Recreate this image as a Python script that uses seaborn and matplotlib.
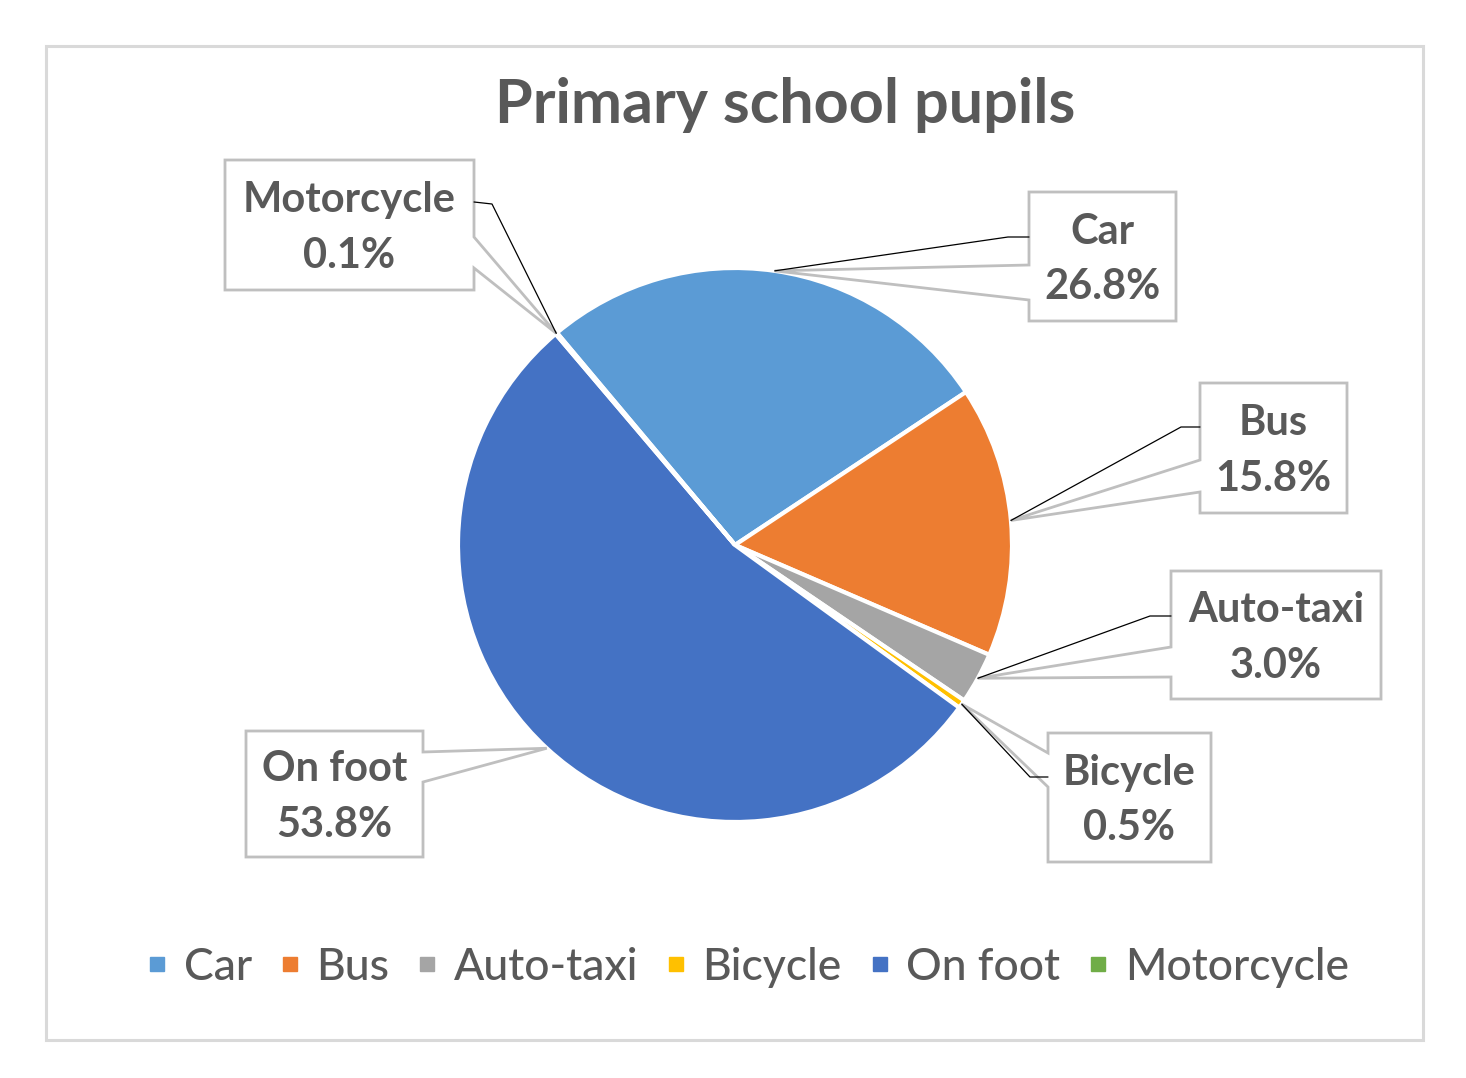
import numpy as np
import seaborn as sns
import matplotlib.pyplot as plt
from matplotlib.patches import Polygon, Rectangle
from matplotlib.lines import Line2D

sns.set_theme(style='white')
plt.rcParams['font.family'] = ['Lato', 'DejaVu Sans']

# Data
modes = ['Car', 'Bus', 'Auto-taxi', 'Bicycle', 'On foot', 'Motorcycle']
shares = [26.8, 15.8, 3.0, 0.5, 53.8, 0.1]
colors = ['#5B9BD5', '#ED7D31', '#A5A5A5', '#FFC000', '#4472C4', '#70AD47']
title = 'Primary school pupils'

W, H = 1466, 1078
TXT = '#595959'
GRID = '#BFBFBF'


def px(x, y):
    # pixel position (y down) -> data coords (y up)
    return x, H - y


fig = plt.figure(figsize=(W / 100, H / 100), dpi=100)
ax = fig.add_axes([0, 0, 1, 1])
ax.set_xlim(0, W)
ax.set_ylim(0, H)
ax.set_aspect('equal')
ax.axis('off')

# outer chart border
ax.add_patch(Rectangle(px(46, 1040), 1377, 994, fill=False, ec='#D9D9D9', lw=2.2, zorder=0))

cx, cy = px(735, 545)
R = 277
wedges, _ = ax.pie(shares, colors=sns.color_palette(colors), startangle=130, counterclock=False,
                   center=(cx, cy), radius=R, frame=True,
                   wedgeprops=dict(edgecolor='white', linewidth=3))
ax.set_xlim(0, W)
ax.set_ylim(0, H)
ax.axis('off')

ax.text(*px(785, 105), title, ha='center', va='center', fontsize=44, fontweight='bold', color=TXT)

# callout boxes: (left, top, right, bottom), side of pointer, wedge base (y1, y2), black leader (start, elbow)
callouts = {
    'Car': ((1029, 192, 1176, 321), 'left', (265, 300), ((1029, 237), (1008, 237))),
    'Bus': ((1200, 383, 1347, 513), 'left', (460, 492), ((1200, 427), (1181, 427))),
    'Auto-taxi': ((1171, 571, 1381, 699), 'left', (647, 677), ((1171, 616), (1150, 616))),
    'Bicycle': ((1048, 733, 1211, 862), 'left', (753, 787), ((1048, 777), (1030, 777))),
    'On foot': ((246, 731, 423, 857), 'right', (752, 782), None),
    'Motorcycle': ((225, 160, 474, 290), 'right', (237, 268), ((474, 202), (492, 204))),
}

for w, name, val in zip(wedges, modes, shares):
    mid = np.deg2rad((w.theta1 + w.theta2) / 2)
    tip = (cx + R * np.cos(mid), cy + R * np.sin(mid))
    (l, t, r, b), side, (y1, y2), leader = callouts[name]
    if side == 'left':
        pts = [px(l, t), px(r, t), px(r, b), px(l, b), px(l, y2), tip, px(l, y1)]
    else:
        pts = [px(l, t), px(r, t), px(r, y1), tip, px(r, y2), px(r, b), px(l, b)]
    ax.add_patch(Polygon(pts, closed=True, fc='white', ec=GRID, lw=2, zorder=3, joinstyle='miter'))
    if leader is not None:
        s, e = leader
        xs = [px(*s)[0], px(*e)[0], tip[0]]
        ys = [px(*s)[1], px(*e)[1], tip[1]]
        ax.plot(xs, ys, color='black', lw=0.9, zorder=4)
    tx, ty = px((l + r) / 2, (t + b) / 2 + 3)
    ax.text(tx, ty, f'{name}\n{val:.1f}%', ha='center', va='center', fontsize=30,
            fontweight='bold', color=TXT, linespacing=1.55, zorder=5)

handles = [Line2D([], [], marker='s', ls='none', markersize=10, color=c) for c in colors]
fig.legend(handles, modes, loc='center', bbox_to_anchor=(0.509, 1 - 967 / H), ncol=6,
           frameon=False, fontsize=32, labelcolor=TXT, handletextpad=0.3,
           columnspacing=0.55, handlelength=0.6, prop=dict(size=32, weight='medium'))

fig.savefig('out.png', dpi=100, facecolor='white')
